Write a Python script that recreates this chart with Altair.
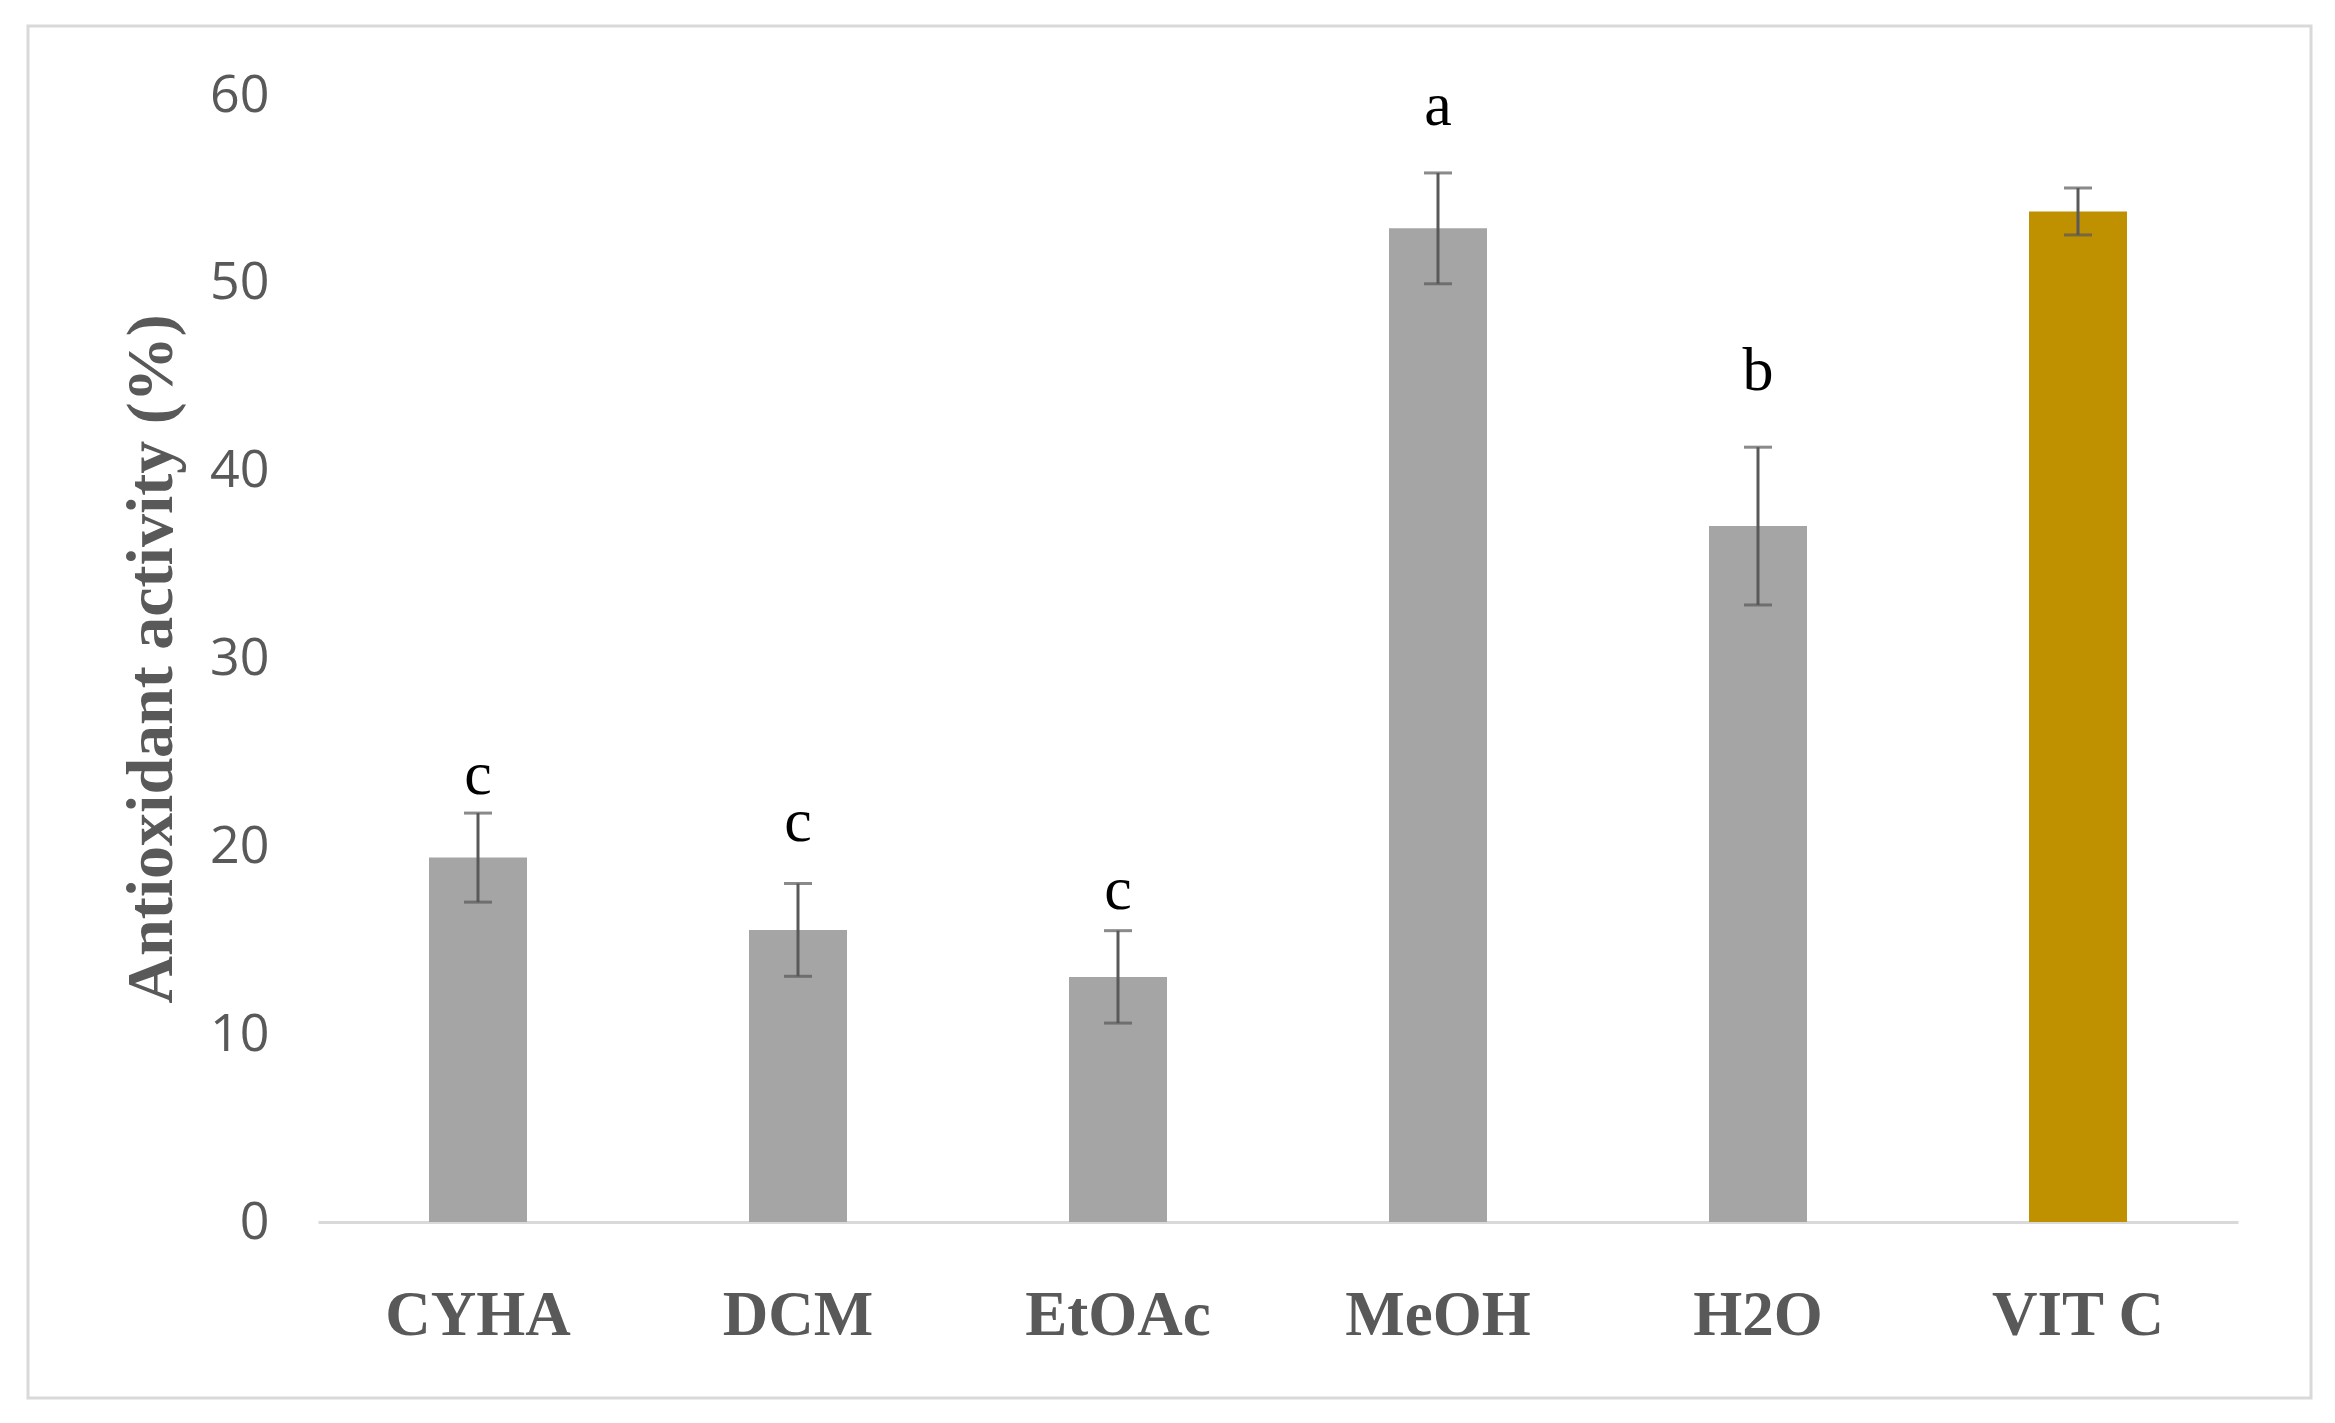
import altair as alt
import pandas as pd

categories = ["CYHA", "DCM", "EtOAc", "MeOH", "H2O", "VIT C"]
groups = ["extract", "extract", "extract", "extract", "extract", "standard"]
values = [19.4, 15.55, 13.05, 52.9, 37.05, 53.8]
errors = [2.37, 2.47, 2.46, 2.95, 4.2, 1.25]
letters = ["c", "c", "c", "a", "b", ""]
letter_y = [23.8, 21.3, 17.7, 59.4, 45.3, 0]
y_ticks = [0, 10, 20, 30, 40, 50, 60]

df = pd.DataFrame({
    "cat": categories,
    "group": groups,
    "val": values,
    "lo": [v - e for v, e in zip(values, errors)],
    "hi": [v + e for v, e in zip(values, errors)],
    "letter": letters,
    "ly": letter_y,
})

W, H = 1920, 1127
GRAY = "#595959"

x_enc = alt.X(
    "cat:N", sort=categories, title=None,
    scale=alt.Scale(paddingInner=0.0, paddingOuter=0.0),
    axis=alt.Axis(labelAngle=0, ticks=False, domainColor="#d9d9d9", domainWidth=3,
                  labelFont="Liberation Serif", labelFontWeight="bold", labelFontSize=63,
                  labelColor=GRAY, labelPadding=62, labelLimit=600, grid=False),
)
y_scale = alt.Scale(domain=[0, 60], nice=False)

base = alt.Chart(df)

frame = alt.Chart(pd.DataFrame({"k": [0]})).mark_rect(
    fill=None, stroke="#d9d9d9", strokeWidth=3
).encode(
    x=alt.value(-290), x2=alt.value(W + 73), y=alt.value(-69), y2=alt.value(H + 176)
)

bars = base.mark_bar(size=98).encode(
    x=x_enc,
    y=alt.Y("val:Q", scale=y_scale, title="Antioxidant activity (%)",
            axis=alt.Axis(values=y_ticks, grid=False, ticks=False, domain=False,
                          labelFont="Open Sans", labelFontSize=52, labelColor=GRAY,
                          labelPadding=49, titleFont="Liberation Serif", titleFontWeight="bold",
                          titleFontSize=66, titleColor=GRAY, titlePadding=24)),
    color=alt.Color("group:N", scale=alt.Scale(domain=["extract", "standard"],
                                                range=["#a5a5a5", "#bf9000"]), legend=None),
)

rules = base.mark_rule(color=GRAY, strokeWidth=3).encode(
    x=alt.X("cat:N", sort=categories), y=alt.Y("lo:Q", scale=y_scale), y2="hi:Q"
)
cap_hi = base.mark_tick(color=GRAY, size=28, thickness=3, orient="horizontal").encode(
    x=alt.X("cat:N", sort=categories), y=alt.Y("hi:Q", scale=y_scale)
)
cap_lo = base.mark_tick(color=GRAY, size=28, thickness=3, orient="horizontal").encode(
    x=alt.X("cat:N", sort=categories), y=alt.Y("lo:Q", scale=y_scale)
)
text = base.mark_text(font="Liberation Serif", fontSize=62, color="black",
                      baseline="middle").encode(
    x=alt.X("cat:N", sort=categories), y=alt.Y("ly:Q", scale=y_scale), text="letter:N"
)

chart = alt.layer(frame, bars, rules, cap_hi, cap_lo, text).properties(
    width=W, height=H,
    padding={"left": 18, "top": 16, "right": 5, "bottom": 5},
).configure(background="white").configure_view(strokeWidth=0, stroke=None)

chart.save("out.html", embed_options={"renderer": "svg", "actions": False})
